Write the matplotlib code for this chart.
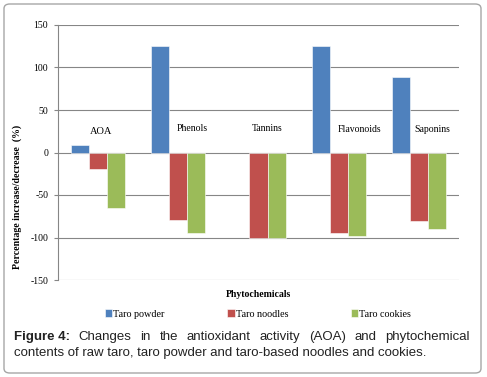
import matplotlib.pyplot as plt
import numpy as np
from matplotlib.patches import FancyBboxPatch

categories = ["AOA", "Phenols", "Tannins", "Flavonoids", "Saponins"]
series_names = ["Taro powder", "Taro noodles", "Taro cookies"]
taro_powder = [9, 125, 0, 125, 89]
taro_noodles = [-19, -79, -100, -95, -81]
taro_cookies = [-65, -95, -100, -98, -90]
colors = ["#4F81BD", "#C0504D", "#9BBB59"]
y_ticks = [-150, -100, -50, 0, 50, 100, 150]

W, H = 487, 377
fig = plt.figure(figsize=(W / 100, H / 100), dpi=100)
serif = ["Liberation Serif", "DejaVu Serif"]

# outer rounded frame
fig.patches.append(FancyBboxPatch((4 / W, 4 / H), 477 / W, 369 / H,
                                  boxstyle="round,pad=0,rounding_size=0.012",
                                  transform=fig.transFigure, facecolor="none",
                                  edgecolor="#a6a6a6", linewidth=1.0, zorder=-1))

ax = fig.add_axes([58 / W, 97 / H, 401 / W, 255 / H])
x = np.arange(len(categories))
w = 0.225
for i, vals in enumerate([taro_powder, taro_noodles, taro_cookies]):
    bars = ax.bar(x + (i - 1) * w, vals, width=w, color=colors[i], edgecolor="white",
                  linewidth=0.4, label=series_names[i], zorder=3)
    for b, v in zip(bars, vals):
        if v == 0:
            b.set_visible(False)  # empty bar would hide the zero gridline

ax.set_xlim(-0.5, len(categories) - 0.5)
ax.set_ylim(-150, 150)
ax.set_yticks(y_ticks)
ax.set_yticklabels([str(t) for t in y_ticks], fontfamily=serif, fontsize=7)
ax.set_xticks([])
ax.yaxis.grid(True, color="#868686", linewidth=0.8, zorder=0)
ax.set_axisbelow(True)
for s in ["top", "right", "bottom"]:
    ax.spines[s].set_visible(False)
ax.spines["left"].set_color("#868686")
ax.tick_params(axis="y", length=3, color="#868686", pad=4)

# category labels placed above the bars
label_pos = [(0.04, 25), (1.17, 28), (2.11, 28), (3.26, 27), (4.17, 27)]
for name, (lx, ly) in zip(categories, label_pos):
    ax.text(lx, ly, name, ha="center", va="center", fontfamily=serif,
            fontsize=7.5 if name == "AOA" else 7)

ax.set_xlabel("Phytochemicals", fontfamily=serif, fontweight="bold", fontsize=7, labelpad=7)
ax.set_ylabel("Percentage increase/decrease  (%)", fontfamily=serif, fontweight="bold",
              fontsize=7.1)
ax.yaxis.set_label_coords(-0.09, 0.325)

fig.legend(loc="center", bbox_to_anchor=(258 / W, 1 - 314 / H), ncol=3, frameon=False,
           prop={"family": serif, "size": 7.3}, handlelength=0.7, handleheight=0.7,
           handletextpad=0.1, columnspacing=6.2)

# justified caption, first line
fig.canvas.draw()
r = fig.canvas.get_renderer()
cap_fs = 9.5
y1 = 1 - 340 / H
y2 = 1 - 356 / H
words = ["Figure 4:", "Changes", "in", "the", "antioxidant", "activity", "(AOA)", "and",
         "phytochemical"]
texts = []
for wd in words:
    t = fig.text(0, y1, wd, fontsize=cap_fs, fontfamily="Liberation Sans", va="baseline",
                 fontweight="bold" if wd == "Figure 4:" else "normal", color="#222222")
    texts.append(t)
widths = [t.get_window_extent(r).width for t in texts]
x0, x1 = 14, 470
gap = (x1 - x0 - sum(widths)) / (len(words) - 1)
cx = x0
for t, wd_ in zip(texts, widths):
    t.set_x(cx / W)
    cx += wd_ + gap
fig.text(14 / W, y2, "contents of raw taro, taro powder and taro-based noodles and cookies.",
         fontsize=cap_fs, fontfamily="Liberation Sans", va="baseline", color="#222222")

fig.savefig("out.png", dpi=100)
